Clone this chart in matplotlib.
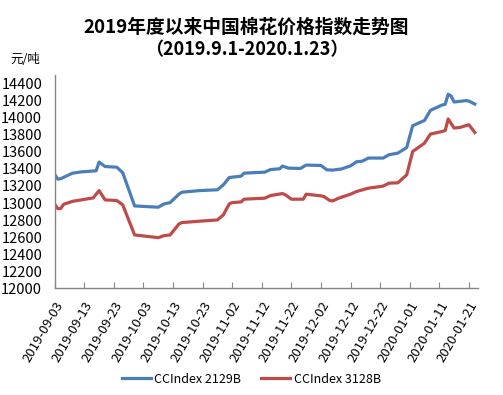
import matplotlib
matplotlib.use("Agg")
import matplotlib.pyplot as plt
import pandas as pd

plt.rcParams["font.family"] = ["Noto Sans CJK SC", "DejaVu Sans"]

# CCIndex 2129B（日期, 元/吨）
dates_2129 = [
    "2019-09-03", "2019-09-04", "2019-09-05", "2019-09-09", "2019-09-12", "2019-09-17",
    "2019-09-18", "2019-09-20", "2019-09-24", "2019-09-26", "2019-09-30", "2019-10-08",
    "2019-10-10", "2019-10-12", "2019-10-15", "2019-10-16", "2019-10-22", "2019-10-28",
    "2019-10-30", "2019-11-01", "2019-11-05", "2019-11-06", "2019-11-13", "2019-11-15",
    "2019-11-18", "2019-11-19", "2019-11-21", "2019-11-25", "2019-11-27", "2019-12-02",
    "2019-12-04", "2019-12-06", "2019-12-09", "2019-12-12", "2019-12-14", "2019-12-16",
    "2019-12-18", "2019-12-23", "2019-12-25", "2019-12-28", "2019-12-31", "2020-01-01",
    "2020-01-02", "2020-01-06", "2020-01-08", "2020-01-12", "2020-01-13", "2020-01-14",
    "2020-01-15", "2020-01-16", "2020-01-20", "2020-01-21", "2020-01-23",
]
values_2129 = [
    13335, 13280, 13285, 13350, 13365, 13378,
    13480, 13428, 13420, 13354, 12966, 12951,
    12990, 13005, 13104, 13127, 13146, 13155,
    13213, 13299, 13315, 13350, 13362, 13393,
    13401, 13433, 13409, 13405, 13445, 13440,
    13389, 13386, 13400, 13436, 13483, 13491,
    13527, 13527, 13566, 13585, 13651, 13780,
    13906, 13968, 14086, 14150, 14157, 14274,
    14255, 14184, 14200, 14195, 14160,
]

# CCIndex 3128B（日期, 元/吨）
dates_3128 = [
    "2019-09-03", "2019-09-04", "2019-09-05", "2019-09-06", "2019-09-09", "2019-09-12",
    "2019-09-16", "2019-09-18", "2019-09-20", "2019-09-24", "2019-09-26", "2019-09-30",
    "2019-10-08", "2019-10-10", "2019-10-12", "2019-10-15", "2019-10-16", "2019-10-22",
    "2019-10-28", "2019-10-30", "2019-11-01", "2019-11-02", "2019-11-05", "2019-11-06",
    "2019-11-13", "2019-11-15", "2019-11-19", "2019-11-20", "2019-11-22", "2019-11-26",
    "2019-11-27", "2019-12-02", "2019-12-03", "2019-12-05", "2019-12-06", "2019-12-08",
    "2019-12-09", "2019-12-12", "2019-12-14", "2019-12-18", "2019-12-23", "2019-12-25",
    "2019-12-28", "2019-12-31", "2020-01-01", "2020-01-02", "2020-01-06", "2020-01-08",
    "2020-01-12", "2020-01-13", "2020-01-14", "2020-01-16", "2020-01-18", "2020-01-21",
    "2020-01-23",
]
values_3128 = [
    12985, 12935, 12935, 12985, 13020, 13037,
    13060, 13146, 13037, 13029, 12978, 12626,
    12594, 12618, 12626, 12755, 12771, 12787,
    12802, 12861, 12990, 13005, 13013, 13045,
    13057, 13088, 13111, 13096, 13045, 13045,
    13104, 13084, 13076, 13029, 13025, 13057,
    13069, 13104, 13135, 13174, 13198, 13233,
    13237, 13331, 13468, 13604, 13702, 13808,
    13839, 13850, 13985, 13879, 13886, 13918,
    13827,
]

x_start = "2019-09-03"
x_end = "2020-01-24"
y_min, y_max, y_step = 12000, 14500, 200

fig = plt.figure(figsize=(5.03, 3.95), dpi=100)
ax = fig.add_axes([0.1088, 0.27, 0.841, 0.54])

ax.plot(pd.to_datetime(dates_2129), values_2129, color="#4a7ebb", linewidth=2.3,
        label="CCIndex 2129B")
ax.plot(pd.to_datetime(dates_3128), values_3128, color="#be4b48", linewidth=2.3,
        label="CCIndex 3128B")

ax.set_xlim(pd.Timestamp(x_start), pd.Timestamp(x_end))
ax.set_ylim(y_min, y_max)
ax.set_yticks(range(y_min, 14401, y_step))

# 每 10 天一个刻度
ticks = pd.date_range(x_start, x_end, freq="10D")
ax.set_xticks(ticks)
ax.set_xticklabels([t.strftime("%Y-%m-%d") for t in ticks], rotation=60,
                   ha="right", rotation_mode="anchor", fontsize=9.5)

for side in ["top", "right"]:
    ax.spines[side].set_visible(False)
for side in ["left", "bottom"]:
    ax.spines[side].set_color("#868686")
    ax.spines[side].set_linewidth(1.0)

ax.tick_params(axis="x", direction="in", length=4, color="#868686", pad=8)
ax.tick_params(axis="y", length=0, pad=9, labelsize=10.5)

fig.text(0.49, 0.932, "2019年度以来中国棉花价格指数走势图", ha="center", va="center",
         fontsize=13.5, fontweight="bold")
fig.text(0.49, 0.875, "（2019.9.1-2020.1.23）", ha="center", va="center",
         fontsize=13, fontweight="bold")
fig.text(0.02, 0.85, "元/吨", ha="left", va="center", fontsize=9)

fig.legend(loc="center", bbox_to_anchor=(0.5, 0.04), ncol=2, frameon=False,
           fontsize=9, handlelength=2.3, columnspacing=1.6, handletextpad=0.3)

fig.savefig("out.png", dpi=100)
